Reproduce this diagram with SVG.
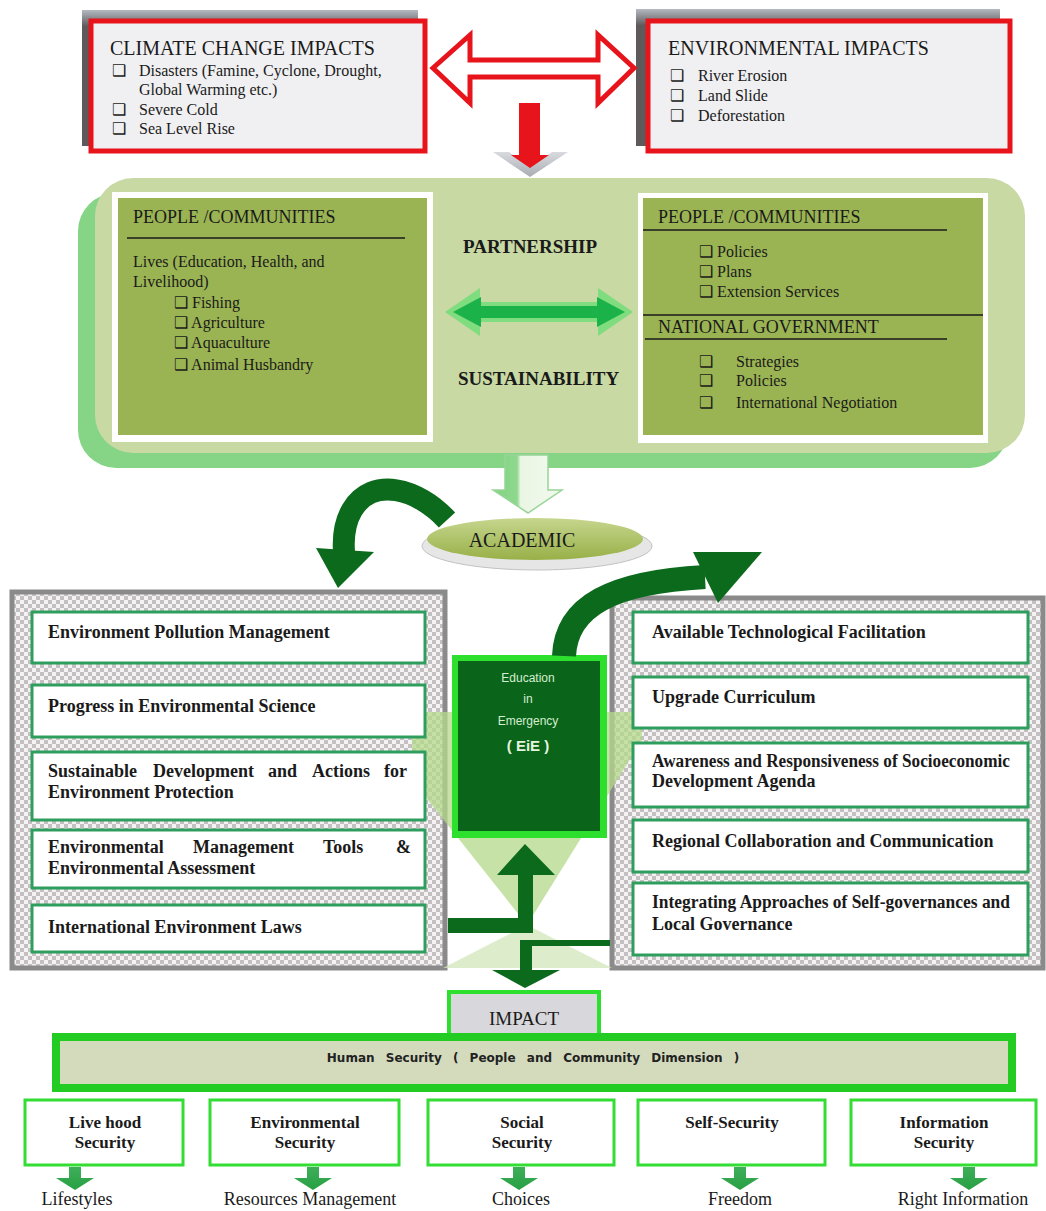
<svg xmlns="http://www.w3.org/2000/svg" width="1046" height="1211" viewBox="0 0 1046 1211">
<defs>
<style>
.serif{font-family:"Liberation Serif","Times New Roman",serif;fill:#1a1a1a}
.sans{font-family:"Liberation Sans",Arial,sans-serif}
.t16{font-size:16px}
.t17{font-size:17px}
.t18{font-size:18px}
.head{font-size:20px}
.b{font-weight:bold}
.redbox{fill:#f0f0f2;stroke:#e8141c;stroke-width:5}
.olive{fill:#9ab454}
.frame{fill:#ffffff}
.item{fill:#ffffff;stroke:#2e9e5e;stroke-width:3}
.panel{fill:url(#checker);stroke:#8a8a8a;stroke-width:5}
.sec{fill:#ffffff;stroke:#33dd33;stroke-width:3}
.dg{fill:#0c6a1c}
.ga{fill:url(#garrow)}
.rule{stroke:#1a1a1a;stroke-width:1.5}
</style>
<pattern id="checker" width="8" height="8" patternUnits="userSpaceOnUse">
<rect width="8" height="8" fill="#f4f2f3"/>
<rect width="4" height="4" fill="#c4c0c2"/>
<rect x="4" y="4" width="4" height="4" fill="#c4c0c2"/>
</pattern>
<linearGradient id="shadow" x1="0" y1="0" x2="0" y2="1">
<stop offset="0" stop-color="#b4bac1"/>
<stop offset="0.12" stop-color="#5e5a5c"/>
<stop offset="1" stop-color="#5e5a5c"/>
</linearGradient>
<linearGradient id="oliveEl" x1="0" y1="0" x2="0" y2="1">
<stop offset="0" stop-color="#c6d68e"/>
<stop offset="1" stop-color="#98b048"/>
</linearGradient>
<linearGradient id="garrow" x1="0" y1="0" x2="0" y2="1">
<stop offset="0" stop-color="#3fae5a"/>
<stop offset="1" stop-color="#27a043"/>
</linearGradient>
<linearGradient id="hollow" x1="0" y1="0" x2="1" y2="0">
<stop offset="0" stop-color="#7fd47f"/>
<stop offset="0.35" stop-color="#8fd88f"/>
<stop offset="0.4" stop-color="#eaf6e4"/>
<stop offset="1" stop-color="#f2f9ee"/>
</linearGradient>
<linearGradient id="chev" x1="0" y1="0" x2="0" y2="1">
<stop offset="0" stop-color="#d8dade"/>
<stop offset="1" stop-color="#a9adb3"/>
</linearGradient>
</defs>

<rect width="1046" height="1211" fill="#ffffff"/>

<!-- Top-left node -->
<g id="climate-change">
<rect x="82" y="10" width="336" height="136" fill="url(#shadow)"/>
<rect class="redbox" x="91" y="21" width="334" height="130"/>
<text class="serif head" x="110" y="55">CLIMATE CHANGE IMPACTS</text>
<text class="serif t16" x="112" y="76">❑</text><text class="serif t16" x="139" y="76">Disasters (Famine, Cyclone, Drought,</text>
<text class="serif t16" x="139" y="95">Global Warming etc.)</text>
<text class="serif t16" x="112" y="115">❑</text><text class="serif t16" x="139" y="115">Severe Cold</text>
<text class="serif t16" x="112" y="134">❑</text><text class="serif t16" x="139" y="134">Sea Level Rise</text>
</g>

<!-- Top-right node -->
<g id="environmental">
<rect x="636" y="9" width="364" height="137" fill="url(#shadow)"/>
<rect class="redbox" x="648" y="21" width="362" height="130"/>
<text class="serif head" x="668" y="55">ENVIRONMENTAL  IMPACTS</text>
<text class="serif t16" x="670" y="81">❑</text><text class="serif t16" x="698" y="81">River Erosion</text>
<text class="serif t16" x="670" y="101">❑</text><text class="serif t16" x="698" y="101">Land Slide</text>
<text class="serif t16" x="670" y="121">❑</text><text class="serif t16" x="698" y="121">Deforestation</text>
</g>

<!-- Middle panel -->
<g id="partnership-panel">
<rect x="78" y="193" width="930" height="275" rx="38" fill="#86d486"/>
<rect x="95" y="178" width="930" height="275" rx="38" fill="#c8d9a4"/>
<text class="serif b" x="463" y="253" font-size="19">PARTNERSHIP</text>
<text class="serif b" x="458" y="385" font-size="19">SUSTAINABILITY</text>
</g>

<g id="people-communities-left">
<rect class="frame" x="112" y="192" width="321" height="250"/>
<rect class="olive" x="118" y="198" width="309" height="237"/>
<text class="serif t18" x="133" y="223">PEOPLE /COMMUNITIES</text>
<line class="rule" x1="127" y1="238" x2="405" y2="238"/>
<text class="serif t16" x="133" y="267">Lives (Education, Health, and</text>
<text class="serif t16" x="133" y="287">Livelihood)</text>
<text class="serif t16" x="174" y="308">❑ Fishing</text>
<text class="serif t16" x="174" y="328">❑ Agriculture</text>
<text class="serif t16" x="174" y="348">❑ Aquaculture</text>
<text class="serif t16" x="174" y="370">❑ Animal Husbandry</text>
</g>

<g id="people-communities-right">
<rect class="frame" x="638" y="193" width="350" height="250"/>
<rect class="olive" x="643" y="198" width="340" height="237"/>
<text class="serif t18" x="658" y="223">PEOPLE /COMMUNITIES</text>
<line class="rule" x1="643" y1="230" x2="947" y2="230"/>
<text class="serif t16" x="699" y="257">❑ Policies</text>
<text class="serif t16" x="699" y="277">❑ Plans</text>
<text class="serif t16" x="699" y="297">❑ Extension Services</text>
<line class="rule" x1="643" y1="315" x2="983" y2="315"/>
<text class="serif t18" x="658" y="333">NATIONAL GOVERNMENT</text>
<line class="rule" x1="645" y1="339" x2="947" y2="339"/>
<text class="serif t16" x="699" y="367">❑</text><text class="serif t16" x="736" y="367">Strategies</text>
<text class="serif t16" x="699" y="386">❑</text><text class="serif t16" x="736" y="386">Policies</text>
<text class="serif t16" x="699" y="408">❑</text><text class="serif t16" x="736" y="408">International Negotiation</text>
</g>

<!-- ACADEMIC -->
<g id="academic">
<ellipse cx="537" cy="546" rx="115" ry="24" fill="#e6e6e6" stroke="#c2c2c2" stroke-width="1"/>
<ellipse cx="535" cy="539" rx="108" ry="21" fill="url(#oliveEl)"/>
<text class="serif" x="522" y="547" font-size="20" text-anchor="middle">ACADEMIC</text>
</g>

<!-- Left panel -->
<g id="left-panel">
<rect class="panel" x="12" y="592" width="433" height="376"/>
</g>
<!-- Right panel -->
<g id="right-panel">
<rect class="panel" x="612" y="598" width="431" height="370"/>
</g>

<!-- light green backdrop behind EiE -->
<g id="backdrop" opacity="0.75">
<polygon points="412,712 642,712 642,740 527,925 412,780" fill="#b4d98a"/>
<polygon points="527,925 612,968 443,968" fill="#d2e8ba"/>
</g>

<g id="left-items">
<rect class="item" x="32" y="612" width="393" height="51"/>
<text class="serif t18 b" x="48" y="638">Environment Pollution Management</text>
<rect class="item" x="32" y="685" width="393" height="52"/>
<text class="serif t18 b" x="48" y="712">Progress in Environmental Science</text>
<rect class="item" x="32" y="752" width="393" height="68"/>
<text class="serif t18 b" y="777"><tspan x="48">Sustainable</tspan><tspan x="153">Development</tspan><tspan x="268">and</tspan><tspan x="312">Actions</tspan><tspan x="384">for</tspan></text>
<text class="serif t18 b" x="48" y="798">Environment Protection</text>
<rect class="item" x="32" y="830" width="393" height="58"/>
<text class="serif t18 b" y="853"><tspan x="48">Environmental</tspan><tspan x="193">Management</tspan><tspan x="323">Tools</tspan><tspan x="396">&amp;</tspan></text>
<text class="serif t18 b" x="48" y="874">Environmental Assessment</text>
<rect class="item" x="32" y="905" width="393" height="47"/>
<text class="serif t18 b" x="48" y="933">International Environment Laws</text>
</g>

<g id="right-items">
<rect class="item" x="633" y="612" width="395" height="51"/>
<text class="serif t18 b" x="652" y="638">Available Technological Facilitation</text>
<rect class="item" x="633" y="677" width="395" height="51"/>
<text class="serif t18 b" x="652" y="703">Upgrade Curriculum</text>
<rect class="item" x="633" y="743" width="395" height="64"/>
<text class="serif t18 b" x="652" y="767" textLength="358" lengthAdjust="spacingAndGlyphs">Awareness and Responsiveness of Socioeconomic</text>
<text class="serif t18 b" x="652" y="787">Development Agenda</text>
<rect class="item" x="633" y="820" width="395" height="52"/>
<text class="serif t18 b" x="652" y="847">Regional Collaboration and Communication</text>
<rect class="item" x="633" y="883" width="395" height="72"/>
<text class="serif t18 b" x="652" y="908" textLength="358" lengthAdjust="spacingAndGlyphs">Integrating Approaches of Self-governances and</text>
<text class="serif t18 b" x="652" y="930">Local Governance</text>
</g>

<!-- EiE -->
<g id="eie">
<rect x="452" y="655" width="155" height="183" fill="#2ee02e"/>
<rect x="458" y="661" width="142" height="170" fill="#0a641a"/>
<text class="sans" x="528" y="682" font-size="12" fill="#d6eed0" text-anchor="middle">Education</text>
<text class="sans" x="528" y="703" font-size="12" fill="#d6eed0" text-anchor="middle">in</text>
<text class="sans" x="528" y="725" font-size="12" fill="#d6eed0" text-anchor="middle">Emergency</text>
<text class="sans b" x="528" y="751" font-size="15" fill="#e4f4de" text-anchor="middle">( EiE )</text>
</g>

<!-- IMPACT -->
<g id="impact">
<rect x="449" y="992" width="150" height="44" fill="#d8d8dc" stroke="#2ee02e" stroke-width="4"/>
<text class="serif" x="524" y="1025" font-size="19" text-anchor="middle">IMPACT</text>
</g>

<!-- Human security -->
<g id="human-security">
<rect x="56" y="1037" width="956" height="51" fill="#d4dbbd" stroke="#22cc22" stroke-width="8"/>
<text x="533" y="1062" font-family="'DejaVu Sans',Verdana,sans-serif" font-weight="bold" font-size="12" fill="#222" word-spacing="7" text-anchor="middle">Human Security ( People and Community Dimension )</text>
</g>

<g id="livehood">
<rect class="sec" x="25" y="1100" width="158" height="65"/>
<text class="serif t17 b" x="105" y="1128" text-anchor="middle">Live hood</text>
<text class="serif t17 b" x="105" y="1148" text-anchor="middle">Security</text>
</g>
<g id="env-security">
<rect class="sec" x="210" y="1100" width="189" height="65"/>
<text class="serif t17 b" x="305" y="1128" text-anchor="middle">Environmental</text>
<text class="serif t17 b" x="305" y="1148" text-anchor="middle">Security</text>
</g>
<g id="social-security">
<rect class="sec" x="428" y="1100" width="186" height="65"/>
<text class="serif t17 b" x="522" y="1128" text-anchor="middle">Social</text>
<text class="serif t17 b" x="522" y="1148" text-anchor="middle">Security</text>
</g>
<g id="self-security">
<rect class="sec" x="638" y="1100" width="187" height="65"/>
<text class="serif t17 b" x="732" y="1128" text-anchor="middle">Self-Security</text>
</g>
<g id="info-security">
<rect class="sec" x="851" y="1100" width="185" height="65"/>
<text class="serif t17 b" x="944" y="1128" text-anchor="middle">Information</text>
<text class="serif t17 b" x="944" y="1148" text-anchor="middle">Security</text>
</g>

<g id="outcome-labels">
<text class="serif t18" x="77" y="1205" text-anchor="middle">Lifestyles</text>
<text class="serif t18" x="310" y="1205" text-anchor="middle">Resources Management</text>
<text class="serif t18" x="521" y="1205" text-anchor="middle">Choices</text>
<text class="serif t18" x="740" y="1205" text-anchor="middle">Freedom</text>
<text class="serif t18" x="963" y="1205" text-anchor="middle">Right Information</text>
</g>

<!-- Connectors -->
<g id="connectors">
<!-- double hollow red arrow -->
<polygon points="433,68 470,35 470,60 598,60 598,35 634,68 598,103 598,77 470,77 470,103" fill="#ffffff" stroke="#e8141c" stroke-width="5" stroke-linejoin="miter"/>
<!-- red down arrow with gray chevron -->
<polygon points="493,152 530,177 568,152 552,152 530,167 509,152" fill="url(#chev)"/>
<polygon points="519,103 540,103 540,155 549,155 530,168 511,155 519,155" fill="#e8141c"/>
<!-- green double arrow -->
<polygon points="445,312 480,288 480,302 598,302 598,288 633,312 598,336 598,322 480,322 480,336" fill="#7fdc7f"/>
<polygon points="453,312 481,297 481,306 597,306 597,297 625,312 597,327 597,318 481,318 481,327" fill="#1cb24a"/>
<!-- hollow light-green arrow to ACADEMIC -->
<polygon points="505,455 548,455 548,490 562,490 528,513 493,490 505,490" fill="url(#hollow)" stroke="#98d498" stroke-width="1.5"/>
<!-- left curved arrow -->
<path d="M447,520 C418,488 372,476 352,510 C345,522 343,538 344,552" fill="none" stroke="#0c6a1c" stroke-width="22"/>
<polygon class="dg" points="316,548 374,552 338,588"/>
<!-- right curved arrow -->
<path d="M564,656 C566,606 612,582 705,577" fill="none" stroke="#0c6a1c" stroke-width="24"/>
<polygon class="dg" points="693,552 762,552 718,603"/>
<!-- up arrow into EiE -->
<polygon class="dg" points="448,918 518,918 518,875 497,875 525,844 555,875 533,875 533,933 448,933"/>
<!-- down arrow into IMPACT -->
<polygon class="dg" points="610,940 610,946 532,946 532,970 560,970 525,988 492,970 520,970 520,940"/>
<!-- small down arrows -->
<polygon class="ga" points="69,1167 81,1167 81,1178 94,1178 75,1190 56,1178 69,1178"/>
<polygon class="ga" points="307,1167 319,1167 319,1178 332,1178 313,1190 294,1178 307,1178"/>
<polygon class="ga" points="513,1167 525,1167 525,1178 538,1178 519,1190 500,1178 513,1178"/>
<polygon class="ga" points="734,1167 746,1167 746,1178 759,1178 740,1190 721,1178 734,1178"/>
<polygon class="ga" points="963,1167 975,1167 975,1178 988,1178 969,1190 950,1178 963,1178"/>
</g>
</svg>
